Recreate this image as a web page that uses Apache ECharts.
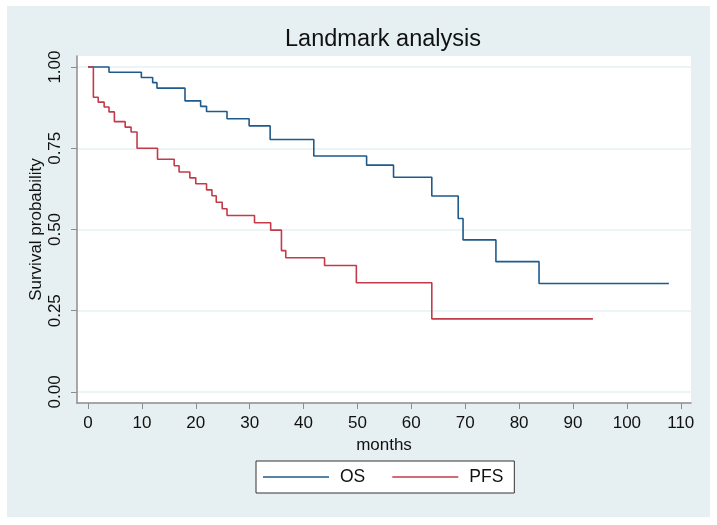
<!DOCTYPE html>
<html>
<head>
<meta charset="utf-8">
<script src="https://cdn.jsdelivr.net/npm/echarts@6/dist/echarts.min.js"></script>
<style>
  html, body { margin: 0; padding: 0; background: #fff; }
  #chart { position: absolute; left: 7px; top: 6px; width: 703px; height: 511px; }
</style>
</head>
<body>
<div id="chart"></div>
<script>
// Kaplan-Meier steps (months, survival)
var osMonths  = [0, 3.9, 9.9, 12, 12.8, 18, 20.9, 22, 25.8, 29.9, 33.8, 41.9, 51.7, 56.7, 63.8, 68.7, 69.6, 75.7, 83.7, 107.8];
var osSurv    = [1, 0.984, 0.968, 0.952, 0.935, 0.896, 0.879, 0.863, 0.841, 0.819, 0.777, 0.726, 0.698, 0.661, 0.603, 0.534, 0.468, 0.401, 0.334, 0.334];
var pfsMonths = [0, 1, 1.9, 3, 3.9, 4.9, 6.9, 8, 9.1, 12.9, 16, 16.9, 18.9, 20, 22, 23, 23.8, 24.9, 25.8, 30.9, 33.9, 35.9, 36.7, 43.9, 49.8, 63.8, 93.7];
var pfsSurv   = [1, 0.907, 0.892, 0.877, 0.862, 0.832, 0.815, 0.8, 0.75, 0.716, 0.696, 0.677, 0.659, 0.641, 0.622, 0.604, 0.584, 0.564, 0.543, 0.521, 0.498, 0.435, 0.413, 0.389, 0.336, 0.225, 0.225];

var xTicks = [0, 10, 20, 30, 40, 50, 60, 70, 80, 90, 100, 110];
var yTicks = [0, 0.25, 0.5, 0.75, 1];

function pairs(xs, ys) {
    return xs.map(function (x, i) { return [x, ys[i]]; });
}

var font = '"Liberation Sans", Arial, sans-serif';
var axisGray = '#8c8c8c';

var option = {
    backgroundColor: '#e6f0f2',
    animation: false,
    textStyle: { fontFamily: font },
    title: {
        text: 'Landmark analysis',
        left: 371,
        top: 17,
        textAlign: 'center',
        textStyle: { fontSize: 23.5, fontWeight: 'normal', color: '#111', fontFamily: font }
    },
    grid: {
        left: 70,
        top: 50,
        width: 614,
        height: 347,
        show: true,
        backgroundColor: '#fff',
        borderWidth: 0
    },
    xAxis: {
        type: 'value',
        min: -2.04,
        max: 111.9,
        name: 'months',
        nameLocation: 'middle',
        nameGap: 30,
        nameTextStyle: { fontSize: 17, color: '#111' },
        axisLine: { show: true, onZero: false, lineStyle: { color: axisGray, width: 1.5 } },
        axisTick: { show: true, length: 6, customValues: xTicks, lineStyle: { color: axisGray } },
        axisLabel: { customValues: xTicks, fontSize: 17, color: '#111', margin: 12 },
        splitLine: { show: false }
    },
    yAxis: {
        type: 'value',
        min: -0.034,
        max: 1.034,
        name: 'Survival probability',
        nameLocation: 'middle',
        nameGap: 32,
        nameMoveOverlap: false,
        nameTextStyle: { fontSize: 17, color: '#111' },
        axisLine: { show: true, onZero: false, lineStyle: { color: axisGray, width: 1.5 } },
        axisTick: { show: true, length: 6, customValues: yTicks, lineStyle: { color: axisGray } },
        axisLabel: {
            customValues: yTicks,
            rotate: 90,
            fontSize: 17,
            color: '#111',
            margin: 13,
            formatter: function (v) { return v.toFixed(2); }
        },
        splitLine: { show: true, lineStyle: { color: '#e6f0f2', width: 1.5 } }
    },
    legend: {
        data: ['OS', 'PFS'],
        left: 249,
        top: 455,
        orient: 'horizontal',
        icon: 'rect',
        itemWidth: 66,
        itemHeight: 1.5,
        itemGap: 27,
        padding: [7, 11, 7, 7],
        backgroundColor: '#fff',
        borderColor: '#333',
        borderWidth: 1,
        borderRadius: 0,
        textStyle: { fontSize: 17.5, color: '#111', padding: [0, 0, 0, 6] }
    },
    series: [
        {
            name: 'OS',
            type: 'line',
            step: 'end',
            showSymbol: false,
            color: '#1f5a8c',
            lineStyle: { width: 1.6 },
            data: pairs(osMonths, osSurv)
        },
        {
            name: 'PFS',
            type: 'line',
            step: 'end',
            showSymbol: false,
            color: '#c23b48',
            lineStyle: { width: 1.6 },
            data: pairs(pfsMonths, pfsSurv)
        }
    ]
};

var myChart = echarts.init(document.getElementById('chart'));
myChart.setOption(option);
</script>
</body>
</html>
